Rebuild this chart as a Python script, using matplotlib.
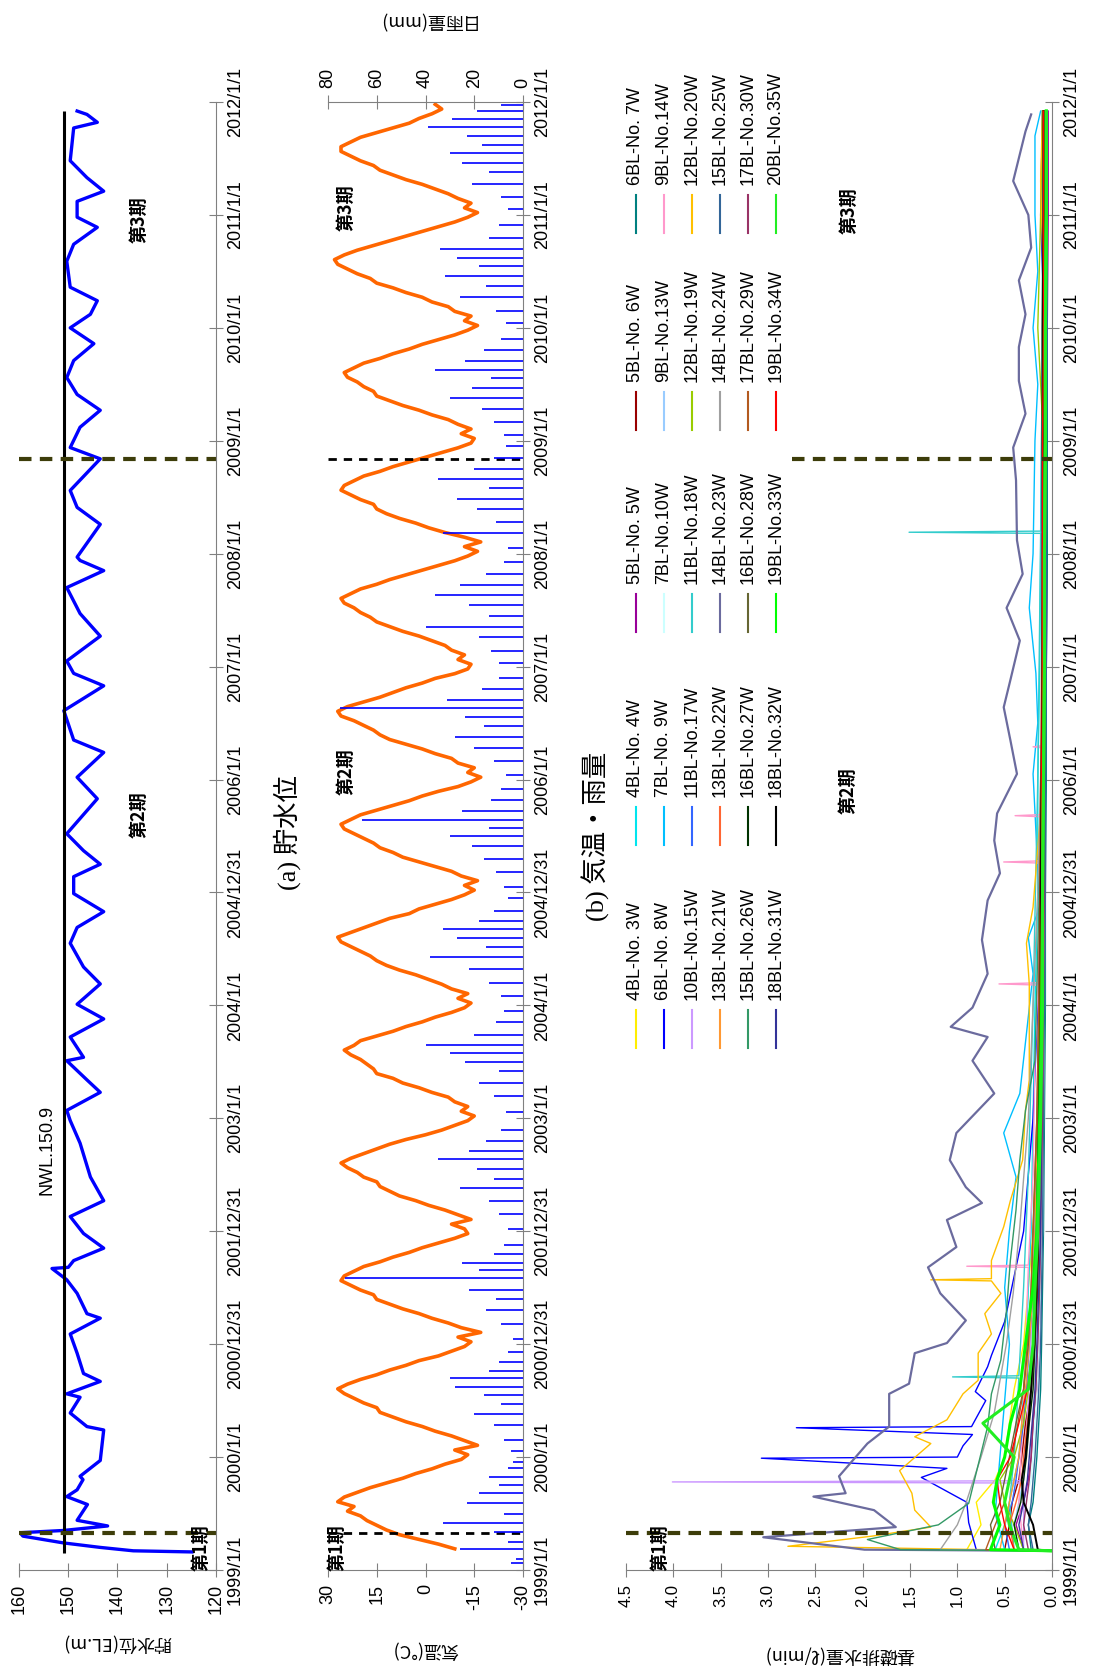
import matplotlib
matplotlib.use("Agg")
import matplotlib.pyplot as plt
from matplotlib.lines import Line2D
from matplotlib.ticker import FormatStrFormatter

W, H = 1110, 1668
AX_TOP, AX_BOTTOM = 102, 1570          # pixel rows of 2012/1/1 and 1999/1/1
SANS = ['Liberation Sans', 'Noto Sans CJK JP']
CJK = ['Noto Sans CJK JP', 'DejaVu Sans']
SERIF = ['Liberation Serif', 'Noto Sans CJK JP']
GRAY = '#808080'

plt.rcParams['font.family'] = SANS
plt.rcParams['axes.unicode_minus'] = False

# ---- shared date axis ----
year_ticks = list(range(1999, 2013))
date_labels = ['1999/1/1', '2000/1/1', '2000/12/31', '2001/12/31', '2003/1/1',
               '2004/1/1', '2004/12/31', '2006/1/1', '2007/1/1', '2008/1/1',
               '2009/1/1', '2010/1/1', '2011/1/1', '2012/1/1']
period_bounds = [1999.33, 2008.84]

# ---- (a) reservoir water level ----
lvl_t = [1999.16, 1999.17, 1999.20, 1999.24, 1999.30, 1999.33, 1999.35, 1999.39,
         1999.44, 1999.58, 1999.65, 1999.71, 1999.80, 1999.83, 1999.97, 2000.24,
         2000.27, 2000.39, 2000.53, 2000.56, 2000.67, 2000.74, 2000.92, 2001.09,
         2001.23, 2001.27, 2001.45, 2001.57, 2001.67, 2001.68, 2001.74, 2001.85,
         2001.98, 2002.13, 2002.27, 2002.48, 2002.78, 2002.98, 2003.07, 2003.23,
         2003.34, 2003.51, 2003.54, 2003.72, 2003.88, 2004.01, 2004.19, 2004.34,
         2004.55, 2004.69, 2004.83, 2004.99, 2005.14, 2005.25, 2005.37, 2005.52,
         2005.83, 2006.02, 2006.24, 2006.35, 2006.61, 2006.83, 2006.94, 2007.05,
         2007.27, 2007.47, 2007.70, 2007.85, 2007.94, 2007.97, 2008.26, 2008.41,
         2008.56, 2008.84, 2008.94, 2009.12, 2009.27, 2009.41, 2009.56, 2009.71,
         2009.86, 2010.00, 2010.12, 2010.24, 2010.36, 2010.59, 2010.74, 2010.89,
         2010.98, 2011.12, 2011.21, 2011.33, 2011.48, 2011.77, 2011.82, 2011.89,
         2011.92]
lvl_v = [124.9, 136.8, 143.5, 151.0, 159.2, 159.8, 151.0, 142.0,
         148.2, 146.1, 150.3, 148.2, 147.0, 147.6, 143.5, 142.8,
         146.2, 149.6, 147.6, 150.3, 143.5, 146.9, 148.2, 149.6,
         143.5, 146.2, 148.2, 150.3, 153.3, 150.0, 148.9, 142.8,
         146.9, 149.6, 142.8, 145.5, 147.6, 149.6, 150.3, 143.5,
         146.2, 150.3, 146.9, 149.6, 142.8, 148.2, 143.5, 146.9,
         149.6, 148.2, 142.8, 148.9, 148.9, 143.5, 146.9, 150.3,
         144.1, 148.2, 142.8, 148.9, 150.9, 142.8, 148.9, 150.3,
         143.5, 147.6, 150.3, 142.8, 147.6, 148.2, 143.5, 148.2,
         149.6, 143.5, 149.6, 147.6, 143.5, 148.2, 150.3, 148.9,
         144.8, 149.6, 145.5, 144.1, 149.6, 150.3, 148.9, 144.1,
         148.2, 148.2, 142.8, 146.2, 149.6, 148.9, 144.1, 146.2,
         148.2]
nwl = 150.9

# ---- (b) air temperature, half-month readings from 1999 Mar ----
temp_start = 1999 + 4.5 / 24
temp_v = [
    -9, -4, 2, 8, 12, 15, 18, 20, 24, 22, 27, 25, 21, 17, 12, 7, 3, -2, -6, -11,
    -13, -9, -16, -12, -8, -3, 1, 6, 10, 14, 15, 19, 22, 25, 27, 24, 20, 15, 11, 6, 2, -4, -8, -12,
    -14, -10, -17, -11, -7, -2, 2, 7, 11, 15, 16, 20, 23, 26, 25, 22, 19, 14, 10, 5, 1, -4, -9, -13,
    -12, -8, -14, -10, -6, -1, 3, 8, 11, 14, 15, 19, 21, 24, 26, 23, 19, 15, 11, 6, 0, -5, -9, -13,
    -15, -11, -13, -9, -7, -2, 2, 7, 10, 15, 16, 18, 20, 23, 25, 22, 20, 15, 10, 6, 1, -3, -8, -12,
    -14, -10, -13, -8, -5, -1, 3, 8, 12, 15, 17, 20, 23, 26, 27, 23, 19, 15, 11, 5, 2, -3, -8, -12,
    -15, -12, -16, -11, -8, -3, 2, 7, 10, 14, 16, 19, 22, 25, 26, 23, 20, 15, 10, 5, 1, -4, -10, -14,
    -17, -13, -15, -10, -8, -3, 1, 6, 11, 14, 16, 19, 22, 26, 27, 24, 19, 14, 10, 6, 1, -3, -9, -13,
    -14, -10, -12, -8, -6, -2, 2, 7, 11, 15, 17, 20, 22, 25, 26, 23, 20, 15, 11, 6, 1, -4, -9, -13,
    -16, -12, -17, -12, -6, -1, 3, 8, 12, 15, 16, 20, 23, 26, 25, 22, 19, 14, 10, 5, 0, -5, -10, -14,
    -15, -11, -14, -10, -7, -2, 2, 7, 11, 15, 16, 19, 21, 24, 25, 22, 19, 14, 10, 5, 1, -4, -9, -13,
    -16, -12, -14, -9, -7, -2, 1, 6, 10, 15, 17, 21, 24, 27, 28, 25, 21, 16, 11, 6, 1, -4, -9, -13,
    -16, -12, -14, -10, -7, -3, 1, 6, 10, 14, 16, 20, 23, 26, 26, 23, 20, 15, 10, 5, 2, -2, -5, -3,
]
temp_t = [temp_start + i / 24 for i in range(len(temp_v))]

# ---- (b) daily rainfall (mm) ----
rain_t = [1999.06, 1999.10, 1999.19, 1999.25, 1999.34, 1999.42, 1999.50, 1999.59, 1999.68, 1999.75, 1999.82, 1999.90, 1999.96,
          2000.05, 2000.15, 2000.28, 2000.38, 2000.47, 2000.55, 2000.62, 2000.70, 2000.76, 2000.84, 2000.93,
          2001.05, 2001.18, 2001.30, 2001.40, 2001.48, 2001.59, 2001.66, 2001.72, 2001.80, 2001.88,
          2002.02, 2002.15, 2002.27, 2002.38, 2002.46, 2002.55, 2002.64, 2002.71, 2002.80, 2002.90,
          2003.06, 2003.20, 2003.31, 2003.42, 2003.50, 2003.58, 2003.65, 2003.74, 2003.85, 2003.95,
          2004.08, 2004.20, 2004.32, 2004.43, 2004.52, 2004.60, 2004.68, 2004.75, 2004.84, 2004.95,
          2005.05, 2005.18, 2005.30, 2005.41, 2005.50, 2005.57, 2005.64, 2005.72, 2005.82, 2005.92,
          2006.04, 2006.16, 2006.28, 2006.38, 2006.47, 2006.55, 2006.63, 2006.70, 2006.80, 2006.90,
          2007.03, 2007.14, 2007.26, 2007.35, 2007.45, 2007.55, 2007.63, 2007.72, 2007.82, 2007.93,
          2008.05, 2008.18, 2008.28, 2008.40, 2008.48, 2008.58, 2008.66, 2008.75, 2008.85, 2008.95,
          2009.05, 2009.17, 2009.28, 2009.38, 2009.47, 2009.56, 2009.63, 2009.71, 2009.80, 2009.90,
          2010.04, 2010.15, 2010.27, 2010.37, 2010.46, 2010.55, 2010.62, 2010.70, 2010.80, 2010.91,
          2011.05, 2011.16, 2011.27, 2011.38, 2011.46, 2011.55, 2011.62, 2011.70, 2011.78, 2011.85, 2011.92, 2011.97]
rain_mm = [5, 3, 26, 6, 12, 33, 8, 23, 18, 10, 14, 6, 4,
           5, 8, 12, 20, 9, 16, 28, 30, 14, 10, 6,
           4, 9, 15, 11, 22, 73, 18, 25, 12, 8,
           6, 10, 14, 26, 12, 19, 35, 22, 15, 9,
           7, 12, 18, 10, 24, 30, 40, 20, 11, 8,
           9, 14, 22, 38, 15, 27, 33, 18, 12, 6,
           8, 11, 16, 21, 30, 14, 66, 25, 13, 9,
           7, 12, 20, 28, 16, 24, 75, 31, 17, 10,
           10, 13, 18, 40, 14, 22, 36, 26, 15, 8,
           6, 33, 11, 19, 27, 14, 35, 20, 12, 7,
           8, 12, 17, 30, 21, 13, 36, 24, 16, 9,
           7, 11, 26, 15, 32, 18, 27, 34, 14, 10,
           6, 9, 21, 14, 25, 30, 17, 23, 39, 29, 19, 9]

# ---- (c) foundation drainage (l/min) ----
c_labels = ['4BL-No. 3W', '4BL-No. 4W', '5BL-No. 5W', '5BL-No. 6W', '6BL-No. 7W',
            '6BL-No. 8W', '7BL-No. 9W', '7BL-No.10W', '9BL-No.13W', '9BL-No.14W',
            '10BL-No.15W', '11BL-No.17W', '11BL-No.18W', '12BL-No.19W', '12BL-No.20W',
            '13BL-No.21W', '13BL-No.22W', '14BL-No.23W', '14BL-No.24W', '15BL-No.25W',
            '15BL-No.26W', '16BL-No.27W', '16BL-No.28W', '17BL-No.29W', '17BL-No.30W',
            '18BL-No.31W', '18BL-No.32W', '19BL-No.33W', '19BL-No.34W', '20BL-No.35W']
c_colors = ['#ffee00', '#00e5ee', '#990099', '#990000', '#008080',
            '#0000ff', '#00bfff', '#ccffff', '#99ccff', '#ff99cc',
            '#cc99ff', '#3366ff', '#33cccc', '#99cc00', '#ffc000',
            '#ff9933', '#ff6633', '#6b6b9e', '#a0a0a0', '#336699',
            '#339966', '#003300', '#666633', '#b35a1f', '#993366',
            '#333399', '#000000', '#00ff00', '#ff0000', '#22ee22']

grid_t = [1999.17, 1999.18, 1999.4, 1999.6, 1999.8, 2000.0, 2000.3, 2000.6, 2001.0, 2001.5, 2002.0,
          2003.0, 2004.0, 2005.0, 2006.0, 2007.0, 2008.0, 2009.0, 2010.0, 2011.0, 2011.92]
w03 = [0, 0.9, 0.75, 0.8, 0.6, 0.5, 0.45, 0.4, 0.3, 0.25, 0.2, 0.15, 0.12, 0.1, 0.1, 0.08, 0.08, 0.07, 0.07, 0.06, 0.06]
w04 = [0, 0.6, 0.5, 0.45, 0.4, 0.35, 0.32, 0.3, 0.27, 0.25, 0.22, 0.2, 0.18, 0.15, 0.15, 0.13, 0.12, 0.11, 0.1, 0.1, 0.1]
w05 = [0, 0.3, 0.38, 0.3, 0.25, 0.22, 0.2, 0.16, 0.14, 0.12, 0.1, 0.09, 0.1, 0.08, 0.07, 0.06, 0.05, 0.05, 0.05, 0.04, 0.04]
w06 = [0, 0.5, 0.45, 0.42, 0.35, 0.32, 0.28, 0.22, 0.18, 0.15, 0.14, 0.12, 0.11, 0.1, 0.09, 0.08, 0.08, 0.07, 0.06, 0.06, 0.05]
w07 = [0, 0.22, 0.25, 0.2, 0.18, 0.16, 0.14, 0.12, 0.11, 0.1, 0.09, 0.08, 0.07, 0.07, 0.06, 0.06, 0.05, 0.05, 0.05, 0.05, 0.05]
w10 = [0, 0.25, 0.3, 0.28, 0.22, 0.2, 0.18, 0.16, 0.14, 0.12, 0.1, 0.09, 0.08, 0.08, 0.07, 0.07, 0.06, 0.06, 0.06, 0.05, 0.05]
w13 = [0, 0.35, 0.4, 0.35, 0.3, 0.28, 0.25, 0.22, 0.2, 0.18, 0.16, 0.14, 0.12, 0.11, 0.1, 0.1, 0.09, 0.09, 0.08, 0.08, 0.08]
w17 = [0, 0.45, 0.5, 0.42, 0.38, 0.35, 0.3, 0.27, 0.24, 0.2, 0.18, 0.15, 0.14, 0.12, 0.11, 0.1, 0.1, 0.09, 0.09, 0.08, 0.08]
w19 = [0, 0.3, 0.4, 0.5, 0.55, 0.4, 0.3, 0.25, 0.2, 0.18, 0.15, 0.13, 0.12, 0.1, 0.1, 0.1, 0.09, 0.09, 0.15, 0.12, 0.1]
w21 = [0, 0.55, 0.5, 0.45, 0.4, 0.35, 0.32, 0.28, 0.24, 0.2, 0.18, 0.15, 0.13, 0.12, 0.11, 0.1, 0.1, 0.09, 0.09, 0.08, 0.08]
w22 = [0, 0.4, 0.45, 0.38, 0.32, 0.3, 0.26, 0.22, 0.2, 0.17, 0.15, 0.13, 0.12, 0.11, 0.1, 0.09, 0.09, 0.08, 0.08, 0.07, 0.07]
w25 = [0, 0.2, 0.25, 0.22, 0.2, 0.18, 0.16, 0.14, 0.12, 0.11, 0.1, 0.09, 0.08, 0.07, 0.07, 0.06, 0.06, 0.06, 0.05, 0.05, 0.05]
w27 = [0, 0.35, 0.4, 0.33, 0.3, 0.27, 0.24, 0.2, 0.18, 0.16, 0.14, 0.12, 0.11, 0.1, 0.09, 0.09, 0.08, 0.08, 0.07, 0.07, 0.07]
w28 = [0, 0.6, 0.65, 0.55, 0.5, 0.45, 0.38, 0.3, 0.25, 0.22, 0.2, 0.16, 0.14, 0.12, 0.11, 0.1, 0.1, 0.09, 0.09, 0.08, 0.08]
w29 = [0, 0.7, 0.6, 0.5, 0.45, 0.42, 0.36, 0.3, 0.26, 0.22, 0.2, 0.16, 0.14, 0.13, 0.12, 0.11, 0.1, 0.1, 0.09, 0.09, 0.09]
w30 = [0, 0.25, 0.3, 0.27, 0.24, 0.22, 0.2, 0.17, 0.15, 0.13, 0.12, 0.1, 0.09, 0.08, 0.08, 0.07, 0.07, 0.06, 0.06, 0.06, 0.06]
w31 = [0, 0.3, 0.35, 0.3, 0.26, 0.24, 0.21, 0.18, 0.16, 0.14, 0.12, 0.11, 0.1, 0.09, 0.08, 0.08, 0.07, 0.07, 0.07, 0.06, 0.06]
w32 = [0, 0.15, 0.2, 0.3, 0.32, 0.28, 0.25, 0.22, 0.2, 0.18, 0.16, 0.14, 0.12, 0.12, 0.11, 0.1, 0.1, 0.1, 0.1, 0.09, 0.09]
w33 = [0, 0.65, 0.55, 0.62, 0.58, 0.5, 0.44, 0.34, 0.28, 0.2, 0.16, 0.13, 0.11, 0.1, 0.09, 0.08, 0.08, 0.07, 0.07, 0.06, 0.06]
w34 = [0, 0.4, 0.5, 0.55, 0.58, 0.44, 0.35, 0.26, 0.2, 0.18, 0.15, 0.13, 0.12, 0.11, 0.11, 0.1, 0.1, 0.1, 0.09, 0.09, 0.09]
w35 = [0, 0.35, 0.45, 0.5, 0.45, 0.4, 0.73, 0.25, 0.2, 0.18, 0.15, 0.12, 0.1, 0.1, 0.09, 0.08, 0.08, 0.07, 0.07, 0.06, 0.06]

w08_t = [1999.17, 1999.18, 1999.42, 1999.6, 1999.82, 1999.9, 1999.99, 2000.0, 2000.1, 2000.2, 2000.26, 2000.27,
         2000.5, 2000.58, 2000.8, 2000.9, 2001.2, 2001.6, 2002.0, 2002.5, 2003.0, 2004.0, 2005.0, 2006.0,
         2007.0, 2008.0, 2009.0, 2010.0, 2011.0, 2011.92]
w08_v = [0, 0.8, 0.88, 0.9, 1.38, 1.11, 3.07, 1.0, 0.94, 0.84, 2.7, 0.85,
         0.7, 0.81, 0.68, 0.64, 0.5, 0.4, 0.3, 0.25, 0.2, 0.15, 0.12, 0.1,
         0.1, 0.08, 0.08, 0.08, 0.12, 0.1]
w09_t = [1999.17, 1999.18, 1999.5, 2000.0, 2000.5, 2001.0, 2001.5, 2002.0, 2002.48, 2002.87, 2003.22, 2004.28,
         2004.6, 2004.87, 2006.05, 2006.5, 2006.94, 2007.52, 2008.0, 2009.0, 2009.5, 2010.0, 2010.5, 2011.0,
         2011.7, 2011.92]
w09_v = [0, 0.5, 0.6, 0.55, 0.5, 0.45, 0.5, 0.45, 0.38, 0.51, 0.34, 0.2,
         0.25, 0.13, 0.2, 0.15, 0.17, 0.24, 0.2, 0.18, 0.15, 0.2, 0.15, 0.18,
         0.18, 0.12]
w14_t = [1999.17, 1999.18, 1999.6, 2000.5, 2001.68, 2001.69, 2001.70, 2002.5, 2003.5, 2004.18, 2004.19, 2004.2,
         2005.26, 2005.27, 2005.28, 2005.67, 2005.68, 2005.69, 2006.28, 2006.29, 2006.3, 2008.0, 2010.0, 2011.92]
w14_v = [0, 0.3, 0.35, 0.3, 0.25, 0.9, 0.25, 0.2, 0.18, 0.15, 0.56, 0.15,
         0.12, 0.51, 0.12, 0.11, 0.39, 0.11, 0.1, 0.2, 0.1, 0.08, 0.07, 0.07]
w15_t = [1999.17, 1999.18, 1999.77, 1999.78, 1999.79, 2000.5, 2001.5, 2003.0, 2006.0, 2011.92]
w15_v = [0, 0.3, 0.3, 4.01, 0.3, 0.25, 0.2, 0.15, 0.1, 0.08]
w18_t = [1999.17, 1999.18, 1999.6, 2000.0, 2000.70, 2000.71, 2000.72, 2001.5, 2002.5, 2004.0, 2006.0,
         2008.18, 2008.19, 2008.2, 2010.0, 2011.92]
w18_v = [0, 0.4, 0.45, 0.4, 0.35, 1.05, 0.35, 0.3, 0.25, 0.2, 0.15,
         0.12, 1.51, 0.12, 0.1, 0.1]
w20_t = [1999.17, 1999.21, 1999.30, 1999.38, 1999.53, 1999.68, 1999.88, 2000.12, 2000.18, 2000.33, 2000.56,
         2000.68, 2000.92, 2001.09, 2001.27, 2001.45, 2001.56, 2001.57, 2001.58, 2001.74, 2002.04, 2002.27,
         2002.63, 2003.07, 2003.34, 2004.19, 2004.55, 2004.87, 2005.61, 2006.0, 2007.0, 2008.0, 2009.0,
         2010.0, 2010.7, 2011.3, 2011.92]
w20_v = [0, 2.79, 1.9, 1.28, 1.45, 1.48, 1.61, 1.28, 1.45, 1.11, 0.94,
         0.78, 0.78, 0.64, 0.71, 0.54, 0.64, 1.28, 0.64, 0.64, 0.51, 0.44,
         0.31, 0.28, 0.24, 0.24, 0.27, 0.2, 0.13, 0.1, 0.09, 0.08, 0.07,
         0.08, 0.1, 0.12, 0.1]
w23_t = [1999.17, 1999.18, 1999.29, 1999.38, 1999.53, 1999.65, 1999.68, 1999.83, 2000.12, 2000.27, 2000.56,
         2000.65, 2000.92, 2001.01, 2001.21, 2001.45, 2001.68, 2001.86, 2002.10, 2002.25, 2002.39, 2002.63,
         2002.87, 2003.22, 2003.51, 2003.72, 2003.81, 2003.98, 2004.28, 2004.58, 2004.93, 2005.17, 2005.46,
         2005.70, 2006.05, 2006.35, 2006.64, 2006.88, 2007.23, 2007.52, 2007.82, 2008.12, 2008.65, 2008.94,
         2009.24, 2009.53, 2009.83, 2010.12, 2010.42, 2010.71, 2011.00, 2011.30, 2011.74, 2011.89]
w23_v = [0, 1.98, 3.05, 1.65, 1.88, 2.52, 2.18, 2.25, 1.95, 1.72, 1.72,
         1.51, 1.45, 1.11, 0.91, 1.18, 1.31, 1.01, 1.11, 0.74, 0.91, 1.08,
         1.01, 0.61, 0.84, 0.68, 1.07, 0.84, 0.68, 0.74, 0.68, 0.55, 0.61,
         0.58, 0.37, 0.44, 0.51, 0.44, 0.34, 0.48, 0.31, 0.37, 0.38, 0.41,
         0.28, 0.35, 0.35, 0.28, 0.35, 0.22, 0.25, 0.41, 0.28, 0.22]
w24_t = [1999.17, 1999.18, 1999.4, 1999.59, 2000.0, 2000.39, 2001.01, 2001.45, 2002.04, 2003.0, 2004.0,
         2005.0, 2006.0, 2007.0, 2008.0, 2009.0, 2010.0, 2011.92]
w24_v = [0, 1.18, 1.0, 0.91, 0.75, 0.61, 0.48, 0.41, 0.34, 0.25, 0.2,
         0.15, 0.12, 0.1, 0.1, 0.09, 0.09, 0.08]
w26_t = [1999.17, 1999.18, 1999.27, 1999.4, 1999.59, 2000.27, 2000.56, 2000.86, 2001.3, 2001.74, 2002.19,
         2002.63, 2003.07, 2003.51, 2004.5, 2005.5, 2006.5, 2007.5, 2008.5, 2009.5, 2010.5, 2011.92]
w26_v = [0, 1.6, 1.95, 1.2, 0.88, 0.68, 0.64, 0.54, 0.48, 0.44, 0.38,
         0.34, 0.28, 0.18, 0.15, 0.12, 0.1, 0.1, 0.08, 0.08, 0.07, 0.07]

c_series = [(grid_t, w03), (grid_t, w04), (grid_t, w05), (grid_t, w06), (grid_t, w07),
            (w08_t, w08_v), (w09_t, w09_v), (grid_t, w10), (grid_t, w13), (w14_t, w14_v),
            (w15_t, w15_v), (grid_t, w17), (w18_t, w18_v), (grid_t, w19), (w20_t, w20_v),
            (grid_t, w21), (grid_t, w22), (w23_t, w23_v), (w24_t, w24_v), (grid_t, w25),
            (w26_t, w26_v), (grid_t, w27), (grid_t, w28), (grid_t, w29), (grid_t, w30),
            (grid_t, w31), (grid_t, w32), (grid_t, w33), (grid_t, w34), (grid_t, w35)]
c_widths = [1.0] * 30
c_widths[17] = 1.6   # 14BL-No.23W
c_widths[26] = 1.4   # 18BL-No.32W
c_widths[27] = 2.2   # 19BL-No.33W
c_widths[29] = 2.2   # 20BL-No.35W

fig = plt.figure(figsize=(W / 100, H / 100), dpi=100)


def add_panel(left_px, width_px):
    ax = fig.add_axes([left_px / W, (H - AX_BOTTOM) / H, width_px / W,
                       (AX_BOTTOM - AX_TOP) / H])
    ax.set_ylim(1999, 2012)
    ax.yaxis.tick_right()
    ax.set_yticks(year_ticks)
    ax.set_yticklabels(date_labels, rotation=90, va='center', fontsize=13)
    ax.tick_params(axis='y', direction='inout', length=10, color=GRAY, pad=3)
    ax.tick_params(axis='x', direction='inout', length=10, color=GRAY, pad=5,
                   labelrotation=90, labelsize=13)
    for s in ['left', 'top']:
        ax.spines[s].set_visible(False)
    for s in ['right', 'bottom']:
        ax.spines[s].set_color(GRAY)
    return ax


def frac_y(px):
    # axes-fraction height of a pixel row
    return (AX_BOTTOM - px) / (AX_BOTTOM - AX_TOP)


def period_text(ax, x, y, s):
    ax.text(x, y, s, rotation=90, ha='center', va='center', fontsize=13,
            fontweight='bold', family=CJK)


# (a)
ax_a = add_panel(19, 197)
ax_a.set_xlim(160, 120)
ax_a.set_xticks([160, 150, 140, 130, 120])
ax_a.plot(lvl_v, lvl_t, color='#0000ff', lw=2.4)
ax_a.vlines(nwl, 1999.15, 2011.92, color='black', lw=2.2)
for b in period_bounds:
    ax_a.axhline(b, color='#3d3d0a', lw=3, dashes=(3, 2))
ax_a.text(154.3, 2002.72, 'NWL.150.9', rotation=90, ha='center', va='center', fontsize=13)
period_text(ax_a, 123.1, 1999.2, '第1期')
period_text(ax_a, 135.7, 2005.69, '第2期')
period_text(ax_a, 135.7, 2010.96, '第3期')
ax_a.set_xlabel('貯水位(EL.m)', rotation=180, fontsize=13, family=CJK, va='center')
ax_a.xaxis.set_label_coords(0.5, frac_y(1643))

# (b)
ax_b = add_panel(328, 195)
ax_b.set_xlim(30, -30)
ax_b.set_xticks([30, 15, 0, -15, -30])
ax_b.plot(temp_v, temp_t, color='#ff6600', lw=2.6)
ax_r = ax_b.twiny()
ax_r.set_xlim(80, 0)
ax_r.set_xticks([80, 60, 40, 20, 0])
ax_r.hlines(rain_t, 0, rain_mm, color='#0000ff', lw=1.2)
ax_r.tick_params(axis='x', direction='inout', length=10, color=GRAY, pad=5,
                 labelrotation=90, labelsize=13)
for s in ['left', 'right', 'bottom']:
    ax_r.spines[s].set_visible(False)
ax_r.spines['top'].set_color(GRAY)
for b in period_bounds:
    ax_b.axhline(b, color='black', lw=2, dashes=(3, 2.5))
period_text(ax_b, 27.2, 1999.2, '第1期')
period_text(ax_b, 24.5, 2006.07, '第2期')
period_text(ax_b, 24.5, 2011.06, '第3期')
ax_b.set_xlabel('気温(°C)', rotation=180, fontsize=13, family=CJK, va='center')
ax_b.xaxis.set_label_coords(0.5, frac_y(1650))
ax_r.set_xlabel('日雨量(mm)', rotation=180, fontsize=13, family=CJK, va='center')
ax_r.xaxis.set_label_coords(0.5, frac_y(20))

# (c)
ax_c = add_panel(626, 426)
ax_c.set_xlim(4.5, 0)
ax_c.set_xticks([4.5, 4.0, 3.5, 3.0, 2.5, 2.0, 1.5, 1.0, 0.5, 0.0])
ax_c.xaxis.set_major_formatter(FormatStrFormatter('%.1f'))
ax_c.tick_params(axis='x', labelsize=12)
order = [i for i in range(30) if i not in (27, 28, 29)] + [28, 27, 29]
for i in order:
    t, v = c_series[i]
    ax_c.plot(v, t, color=c_colors[i], lw=c_widths[i])
ax_c.axhline(period_bounds[0], color='#3d3d0a', lw=3, dashes=(3, 2))
ax_c.hlines(period_bounds[1], 2.75, 0, color='#3d3d0a', lw=3, linestyles=(0, (3, 2)))
period_text(ax_c, 4.14, 1999.2, '第1期')
period_text(ax_c, 2.15, 2005.9, '第2期')
period_text(ax_c, 2.14, 2011.04, '第3期')
ax_c.set_xlabel('基礎排水量(ℓ/min)', rotation=180, fontsize=13, family=CJK, va='center')
ax_c.xaxis.set_label_coords(0.5, frac_y(1655))

# panel titles
fig.text(287 / W, 1 - 833 / H, '(a) 貯水位', rotation=90, ha='center', va='center',
         fontsize=19, family=SERIF)
fig.text(596 / W, 1 - 836 / H, '(b) 気温・雨量', rotation=90, ha='center', va='center',
         fontsize=19, family=SERIF)

# legend for (c), drawn rotated like the rest of the page
leg_x = [636, 664, 692, 720, 748, 776]
leg_y = [1048, 845, 632, 430, 233]
for i, (lab, col) in enumerate(zip(c_labels, c_colors)):
    r, c = divmod(i, 5)
    x = leg_x[r] / W
    fig.add_artist(Line2D([x, x], [1 - leg_y[c] / H, 1 - (leg_y[c] - 38) / H],
                          color=col, lw=1.5, transform=fig.transFigure))
    fig.text(x, 1 - (leg_y[c] - 48) / H, lab, rotation=90, ha='center', va='bottom',
             fontsize=13)

fig.savefig('out.png', dpi=100)
